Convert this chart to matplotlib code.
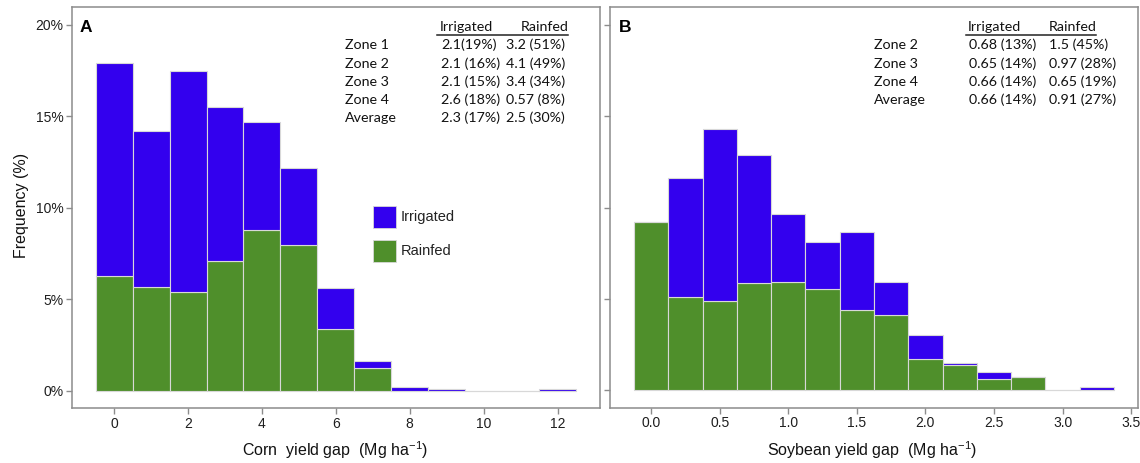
import matplotlib
matplotlib.use("Agg")
import matplotlib.pyplot as plt
from matplotlib.patches import Rectangle
from matplotlib.lines import Line2D

# ---------------- data ----------------
corn_bins = [0, 1, 2, 3, 4, 5, 6, 7, 8, 9, 10, 11, 12]
corn_rainfed = [6.3, 5.7, 5.4, 7.1, 8.8, 8.0, 3.4, 1.25, 0, 0, 0, 0, 0]
corn_irrigated = [11.6, 8.5, 12.1, 8.4, 5.9, 4.2, 2.2, 0.4, 0.22, 0.12, 0, 0, 0.12]

soy_bins = [0.0, 0.25, 0.5, 0.75, 1.0, 1.25, 1.5, 1.75, 2.0, 2.25, 2.5, 2.75, 3.0, 3.25]
soy_rainfed = [9.2, 5.1, 4.9, 5.85, 5.95, 5.55, 4.4, 4.1, 1.7, 1.4, 0.6, 0.72, 0, 0]
soy_irrigated = [0, 6.5, 9.4, 7.05, 3.7, 2.55, 4.25, 1.85, 1.35, 0.1, 0.4, 0, 0, 0.2]

y_ticks = [0, 5, 10, 15, 20]
y_ticklabels = ["0%", "5%", "10%", "15%", "20%"]
corn_xticks = [0, 2, 4, 6, 8, 10, 12]
soy_xticks = [0.0, 0.5, 1.0, 1.5, 2.0, 2.5, 3.0, 3.5]

table_cols = ["Irrigated", "Rainfed"]
corn_rows = ["Zone 1", "Zone 2", "Zone 3", "Zone 4", "Average"]
corn_irr_txt = ["2.1(19%)", "2.1 (16%)", "2.1 (15%)", "2.6 (18%)", "2.3 (17%)"]
corn_rain_txt = ["3.2 (51%)", "4.1 (49%)", "3.4 (34%)", "0.57 (8%)", "2.5 (30%)"]
soy_rows = ["Zone 2", "Zone 3", "Zone 4", "Average"]
soy_irr_txt = ["0.68 (13%)", "0.65 (14%)", "0.66 (14%)", "0.66 (14%)"]
soy_rain_txt = ["1.5 (45%)", "0.97 (28%)", "0.65 (19%)", "0.91 (27%)"]

# ---------------- style ----------------
plt.rcParams["font.family"] = ["Liberation Sans", "DejaVu Sans"]
plt.rcParams["mathtext.default"] = "regular"

BLUE = "#3300EE"
GREEN = "#4F8F2B"
EDGE = "#D8D8D8"
FRAME = "#8C8C8C"
TXT = "#1E1E1E"
TABLE_FONT = ["Lato", "DejaVu Sans"]

W, H = 1140, 463
fig = plt.figure(figsize=(W / 100, H / 100), dpi=100)


def fx(x):
    return x / W


def fy(y):
    return 1 - y / H


def make_axes(l, r, t, b):
    return fig.add_axes([fx(l), fy(b), fx(r) - fx(l), fy(t) - fy(b)])


axA = make_axes(71.7, 600, 6.7, 408.3)
axB = make_axes(610, 1138, 6.7, 407.7)


def style(ax, bins, rain, irr, width, xticks, xlim, showy):
    ax.bar(bins, rain, width=width, color=GREEN, edgecolor=EDGE, linewidth=0.8)
    ax.bar(bins, irr, width=width, bottom=rain, color=BLUE, edgecolor=EDGE, linewidth=0.8)
    ax.set_xlim(*xlim)
    ax.set_ylim(-0.95, 21.0)
    ax.set_yticks(y_ticks)
    if showy:
        ax.set_yticklabels(y_ticklabels)
    else:
        ax.set_yticklabels([])
    ax.set_xticks(xticks)
    for s in ax.spines.values():
        s.set_color(FRAME)
        s.set_linewidth(1.1)
    ax.tick_params(axis="both", colors=FRAME, labelcolor=TXT, labelsize=10,
                   length=4, width=1.0, direction="out", pad=2)


style(axA, corn_bins, corn_rainfed, corn_irrigated, 1.0, corn_xticks, (-1.15, 13.15), True)
style(axB, soy_bins, soy_rainfed, soy_irrigated, 0.25, soy_xticks, (-0.3, 3.55), False)
axB.set_xticklabels([f"{v:.1f}" for v in soy_xticks])

# axis titles
fig.text(fx(22), fy(205), "Frequency (%)", rotation=90, ha="center", va="center",
         fontsize=11.5, color="#111111")
fig.text(fx(335), fy(450), r"Corn  yield gap  (Mg ha$^{-1}$)", ha="center", va="center",
         fontsize=11.5, color="#111111")
fig.text(fx(872), fy(450), r"Soybean yield gap  (Mg ha$^{-1}$)", ha="center", va="center",
         fontsize=11.5, color="#111111")

# panel letters
fig.text(fx(80), fy(27), "A", fontsize=12.5, fontweight="bold", ha="left", va="center")
fig.text(fx(619), fy(27), "B", fontsize=12.5, fontweight="bold", ha="left", va="center")


def table(rows, irr, rain, x_row, x_irr, x_rain, head_irr, head_rain, ul, ys, head_y):
    fs = 10.3
    fig.text(fx(head_irr), fy(head_y), table_cols[0], family=TABLE_FONT, fontsize=fs,
             ha="center", va="center", color="#111111")
    fig.text(fx(head_rain), fy(head_y), table_cols[1], family=TABLE_FONT, fontsize=fs,
             ha="center", va="center", color="#111111")
    fig.add_artist(Line2D([fx(ul[0]), fx(ul[1])], [fy(ul[2]), fy(ul[2])],
                          color="#222222", linewidth=1.1, transform=fig.transFigure))
    for r, a, b, y in zip(rows, irr, rain, ys):
        fig.text(fx(x_row), fy(y), r, family=TABLE_FONT, fontsize=fs, ha="left", va="center", color="#111111")
        fig.text(fx(x_irr), fy(y), a, family=TABLE_FONT, fontsize=fs, ha="left", va="center", color="#111111")
        fig.text(fx(x_rain), fy(y), b, family=TABLE_FONT, fontsize=fs, ha="left", va="center", color="#111111")


table(corn_rows, corn_irr_txt, corn_rain_txt, 345, 441, 506, 466, 545,
      (436.7, 568, 34.5), [45, 64, 82, 100, 118], 26.7)
table(soy_rows, soy_irr_txt, soy_rain_txt, 874, 969, 1049, 994, 1073,
      (966, 1096, 34.5), [45, 64, 82, 100], 26.7)

# legend (panel A)
for yc, col, lab in [(217, BLUE, "Irrigated"), (251, GREEN, "Rainfed")]:
    fig.add_artist(Rectangle((fx(373), fy(yc + 11)), fx(23), 22 / H, facecolor=col,
                             edgecolor=EDGE, linewidth=0.6, transform=fig.transFigure))
    fig.text(fx(401), fy(yc), lab, fontsize=10.5, ha="left", va="center", color="#222222")

fig.savefig("out.png", dpi=100)
